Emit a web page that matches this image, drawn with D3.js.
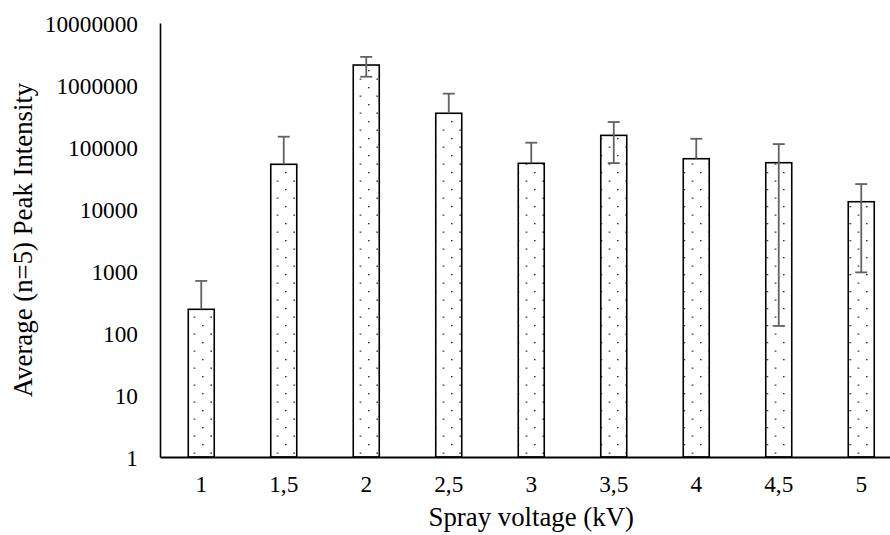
<!DOCTYPE html>
<html>
<head>
<meta charset="utf-8">
<script src="https://cdn.jsdelivr.net/npm/d3@7"></script>
<style>
html,body{margin:0;padding:0;background:#fff;}
svg{display:block;}
</style>
</head>
<body>
<svg id="chart" width="890" height="535" font-family="Times New Roman, Liberation Serif, Tinos, serif"></svg>
<script>
const categories = ["1","1,5","2","2,5","3","3,5","4","4,5","5"];
const values = [241, 52600, 2100000, 350000, 54600, 154000, 64700, 55800, 13100];
const errors = [450, 94000, 740000, 375000, 62700, 99000, 71000, 55670, 12150];
const yTicks = [1,10,100,1000,10000,100000,1000000,10000000];
const xTitle = "Spray voltage (kV)";
const yTitle = "Average (n=5) Peak Intensity";

const FONT = "Times New Roman, Liberation Serif, Tinos, serif";
const svg = d3.select("#chart");
const plotLeft = 160, plotTop = 23, plotBottom = 457, plotRight = 902.5;

const x = d3.scaleBand().domain(categories).range([plotLeft, plotRight])
  .paddingInner(0.685).paddingOuter(0.3425);
const y = d3.scaleLog().domain([1, 1e7]).range([plotBottom, plotTop]);

// dotted pattern
const defs = svg.append("defs");
const pat = defs.append("pattern").attr("id","dots")
  .attr("patternUnits","userSpaceOnUse")
  .attr("width",16.6).attr("height",17)
  .attr("x",3).attr("y",2);
pat.append("rect").attr("width",16.6).attr("height",17).attr("fill","#fff");
pat.append("rect").attr("x",0).attr("y",0).attr("width",1.3).attr("height",1.3).attr("fill","#000");
pat.append("rect").attr("x",8.3).attr("y",8.5).attr("width",1.3).attr("height",1.3).attr("fill","#000");

// bars
svg.append("g").selectAll("rect").data(categories).join("rect")
  .attr("x", d => x(d))
  .attr("y", (d,i) => y(values[i]))
  .attr("width", x.bandwidth())
  .attr("height", (d,i) => plotBottom - y(values[i]))
  .attr("fill","url(#dots)")
  .attr("stroke","#000").attr("stroke-width",1.6);

// error bars
const eg = svg.append("g").attr("stroke","#626262").attr("stroke-width",1.8).attr("fill","none");
categories.forEach((c,i) => {
  const cx = x(c) + x.bandwidth()/2;
  const hi = values[i] + errors[i];
  const lo = values[i] - errors[i];
  const yTop = y(hi);
  const yBot = lo > 0 ? y(lo) : y(values[i]);
  eg.append("line").attr("x1",cx).attr("x2",cx).attr("y1",yTop).attr("y2",yBot);
  eg.append("line").attr("x1",cx-6).attr("x2",cx+6).attr("y1",yTop).attr("y2",yTop);
  if (lo > 0) eg.append("line").attr("x1",cx-6).attr("x2",cx+6).attr("y1",yBot).attr("y2",yBot);
});

// axes
const yAxis = d3.axisLeft(y).tickValues(yTicks).tickFormat(d3.format("d")).tickSize(0).tickPadding(22);
const gy = svg.append("g").attr("transform",`translate(${plotLeft},0)`).call(yAxis);
gy.attr("font-family", FONT).attr("font-size", 23.3);
gy.select(".domain").attr("stroke","#000").attr("stroke-width",1.6);
gy.selectAll("text").attr("font-family",FONT).attr("fill","#000").attr("dy","0.35em");

const xAxis = d3.axisBottom(x).tickSize(0).tickPadding(18);
const gx = svg.append("g").attr("transform",`translate(0,${plotBottom})`).call(xAxis);
gx.attr("font-family", FONT).attr("font-size", 23.3);
gx.select(".domain").attr("stroke","#000").attr("stroke-width",2);
gx.selectAll("text").attr("font-family",FONT).attr("fill","#000");

// titles
svg.append("text").attr("x",(plotLeft+plotRight)/2).attr("y",526)
  .attr("text-anchor","middle").attr("font-family",FONT).attr("font-size",26.8).text(xTitle);
svg.append("text").attr("transform","translate(32,240) rotate(-90)")
  .attr("text-anchor","middle").attr("font-family",FONT).attr("font-size",26.8).text(yTitle);
</script>
</body>
</html>
